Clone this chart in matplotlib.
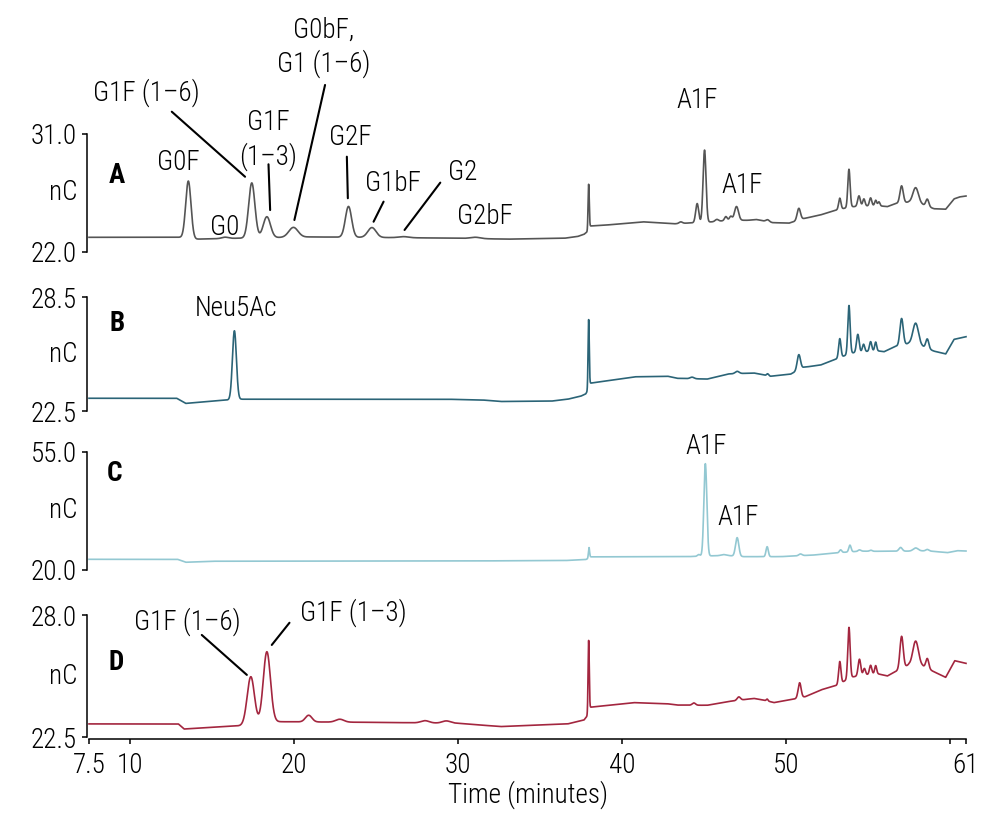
import numpy as np
import matplotlib
matplotlib.use("Agg")
import matplotlib.pyplot as plt
from matplotlib import font_manager as fm

# ---- data ----
t_start, t_end = 7.5, 61.0
x_ticks = [7.5, 10, 20, 30, 40, 50, 60, 61]
x_tick_labels = ["7.5", "10", "20", "30", "40", "50", "", "61"]

panels = ["A", "B", "C", "D"]
ylims = {"A": (22.0, 31.0), "B": (22.5, 28.5), "C": (20.0, 55.0), "D": (22.5, 28.0)}
colors = {"A": "#555555", "B": "#2b6477", "C": "#93c8d2", "D": "#a3263f"}

# baseline points (minutes, nC)
base_a_t = [7.5, 13.0, 14.0, 16.5, 21.0, 26.0, 30.0, 33.0, 36.5, 37.3, 37.7, 37.95, 38.05, 39.0,
            41.3, 43.2, 44.2, 45.5, 46.5, 47.7, 48.2, 49.2, 50.2, 51.1, 52.1, 53.1, 54.0, 55.5,
            56.2, 56.7, 57.5, 58.34, 59.05, 59.76, 60.27, 60.6, 61.0]
base_a_v = [23.12, 23.12, 22.98, 23.05, 23.15, 23.1, 23.05, 22.98, 23.05, 23.18, 23.35, 23.6, 23.98, 24.05,
            24.3, 24.15, 24.22, 24.3, 24.42, 24.42, 24.48, 24.24, 24.2, 24.55, 24.82, 25.2, 25.45, 25.55,
            25.46, 25.7, 25.8, 25.62, 25.3, 25.26, 26.05, 26.2, 26.27]
# peaks: retention time, height above baseline, width
peak_a_t = [13.56, 15.8, 17.43, 18.35, 19.97, 23.33, 24.76, 26.7, 31.07, 37.98, 43.6, 44.6, 45.05,
            45.8, 46.35, 46.65, 47.0, 48.9, 50.8, 53.3, 53.86, 54.47, 54.77, 55.18, 55.49, 55.69,
            57.07, 57.93, 58.64]
peak_a_h = [4.37, 0.1, 4.2, 1.6, 0.75, 2.35, 0.75, 0.08, 0.1, 3.45, 0.12, 1.45, 5.5,
            0.15, 0.3, 0.3, 1.05, 0.15, 0.9, 0.85, 2.9, 0.8, 0.55, 0.6, 0.4, 0.3,
            1.3, 1.2, 0.55]
peak_a_w = [0.16, 0.2, 0.19, 0.22, 0.28, 0.19, 0.25, 0.3, 0.3, 0.035, 0.1, 0.09, 0.09,
            0.1, 0.08, 0.08, 0.12, 0.1, 0.1, 0.07, 0.07, 0.08, 0.07, 0.07, 0.06, 0.06,
            0.1, 0.17, 0.09]

base_b_t = [7.5, 12.85, 13.4, 15.9, 16.8, 29.3, 31.5, 32.6, 35.7, 36.7, 37.5, 37.8, 37.95, 38.05,
            40.8, 42.8, 43.38, 45.21, 46.5, 48.06, 49.08, 50.3, 51.1, 52.13, 53.04, 54.0, 55.5,
            56.0, 56.7, 57.5, 58.34, 59.05, 59.76, 60.27, 61.0]
base_b_v = [23.17, 23.17, 22.9, 23.08, 23.12, 23.12, 23.08, 23.0, 23.02, 23.12, 23.28, 23.4, 23.6, 23.96,
            24.3, 24.33, 24.22, 24.18, 24.45, 24.5, 24.33, 24.44, 24.8, 24.92, 25.22, 25.55, 25.68,
            25.62, 25.9, 26.05, 25.9, 25.65, 25.5, 26.27, 26.41]
peak_b_t = [16.37, 37.98, 44.29, 47.04, 48.9, 50.8, 53.3, 53.86, 54.4, 54.75, 55.18, 55.49, 57.07, 57.93, 58.64]
peak_b_h = [3.62, 3.6, 0.08, 0.12, 0.1, 0.8, 1.0, 2.55, 0.95, 0.4, 0.5, 0.45, 1.4, 1.15, 0.5]
peak_b_w = [0.12, 0.035, 0.12, 0.12, 0.06, 0.1, 0.07, 0.07, 0.08, 0.07, 0.07, 0.06, 0.1, 0.17, 0.09]

base_c_t = [7.5, 12.9, 13.4, 15.0, 30.0, 36.5, 37.8, 37.95, 38.05, 44.0, 45.41, 46.43, 47.45, 49.69,
            51.72, 53.4, 54.6, 55.4, 57.5, 58.64, 59.86, 60.47, 61.0]
base_c_v = [23.17, 23.17, 22.3, 22.6, 22.67, 22.8, 23.1, 23.4, 23.9, 23.96, 24.2, 24.3, 23.96, 23.96,
            24.45, 25.2, 25.6, 25.55, 25.6, 25.7, 25.14, 25.73, 25.63]
peak_c_t = [38.0, 44.7, 45.1, 46.2, 47.04, 48.87, 50.9, 53.35, 53.92, 54.5, 55.2, 57.01, 57.93, 58.64]
peak_c_h = [3.0, 0.5, 27.4, 0.3, 5.5, 2.95, 0.5, 0.8, 2.0, 0.4, 0.3, 1.1, 0.9, 0.4]
peak_c_w = [0.035, 0.08, 0.09, 0.15, 0.1, 0.07, 0.1, 0.07, 0.07, 0.08, 0.08, 0.1, 0.15, 0.09]

base_d_t = [7.5, 12.95, 13.3, 16.7, 17.5, 18.96, 25.0, 30.0, 32.6, 36.7, 37.7, 37.95, 38.05, 40.73,
            42.76, 43.38, 45.21, 46.5, 48.06, 48.87, 49.28, 50.5, 51.2, 52.13, 53.15, 54.0, 55.5,
            56.2, 56.7, 57.5, 58.34, 59.05, 59.76, 60.31, 61.0]
base_d_v = [23.09, 23.09, 22.86, 23.01, 23.08, 23.19, 23.16, 23.12, 22.97, 23.09, 23.27, 23.5, 23.84, 24.05,
            24.0, 23.94, 23.93, 24.1, 24.24, 24.13, 24.05, 24.21, 24.32, 24.62, 24.84, 25.2, 25.37,
            25.25, 25.45, 25.75, 25.7, 25.44, 25.19, 25.94, 25.82]
peak_d_t = [17.37, 18.35, 20.9, 22.8, 28.0, 29.3, 37.98, 44.4, 47.14, 48.87, 50.85, 53.3, 53.86,
            54.5, 54.8, 55.18, 55.49, 57.07, 57.93, 58.64]
peak_d_h = [2.15, 3.2, 0.3, 0.13, 0.1, 0.1, 3.25, 0.1, 0.15, 0.08, 0.68, 1.0, 2.3,
            0.75, 0.3, 0.4, 0.35, 1.45, 1.1, 0.45]
peak_d_w = [0.22, 0.22, 0.2, 0.25, 0.25, 0.25, 0.035, 0.1, 0.1, 0.05, 0.09, 0.07, 0.07,
            0.08, 0.07, 0.07, 0.06, 0.1, 0.17, 0.09]

traces = {
    "A": (base_a_t, base_a_v, peak_a_t, peak_a_h, peak_a_w),
    "B": (base_b_t, base_b_v, peak_b_t, peak_b_h, peak_b_w),
    "C": (base_c_t, base_c_v, peak_c_t, peak_c_h, peak_c_w),
    "D": (base_d_t, base_d_v, peak_d_t, peak_d_h, peak_d_w),
}

# peak labels: text, text position (min, nC), optional leader line (from, to)
labels = {
    "A": [("G0F", (12.93, 28.86), None),
          ("G0", (15.8, 23.9), None),
          ("G1F (1\u20136)", (10.98, 34.13), ((12.55, 32.70), (17.02, 27.74))),
          ("G1F\n(1\u20133)", (18.43, 30.54), ((18.45, 28.69), (18.55, 25.2))),
          ("G0bF,\nG1 (1\u20136)", (21.79, 37.64), ((21.9, 34.74), (20.03, 24.44))),
          ("G2F", (23.43, 30.77), ((23.23, 29.27), (23.29, 26.1))),
          ("G1bF", (26.06, 27.26), ((25.47, 25.84), (24.86, 24.31))),
          ("G2", (30.27, 28.1), ((28.93, 27.29), (26.75, 23.68))),
          ("G2bF", (31.68, 24.67), None),
          ("A1F", (44.62, 33.52), None),
          ("A1F", (47.37, 27.11), None)],
    "B": [("Neu5Ac", (16.47, 27.87), None)],
    "C": [("A1F", (45.17, 56.49), None),
          ("A1F", (47.12, 35.43), None)],
    "D": [("G1F (1\u20136)", (13.48, 27.68), ((14.38, 27.1), (17.13, 25.3))),
          ("G1F (1\u20133)", (23.62, 28.09), ((19.73, 27.65), (18.65, 26.65)))],
}
letter_pos = {"A": (9.21, 27.87), "B": (9.21, 27.08), "C": (9.03, 48.77), "D": (9.15, 25.88)}

# ---- font: prefer a narrow sans ----
def pick_font():
    entries = fm.fontManager.ttflist
    names = {f.name for f in entries}
    for cand in ["Liberation Sans Narrow", "Roboto Condensed", "Open Sans Condensed"]:
        if cand in names:
            return cand, "normal"
    for f in entries:
        if f.name in ("DejaVu Sans", "Roboto", "Open Sans", "Noto Sans") and "condensed" in str(f.stretch):
            return f.name, "condensed"
    return "Liberation Sans", "normal"

fname, fstretch = pick_font()
plt.rcParams["font.family"] = [fname, "DejaVu Sans"]
plt.rcParams["font.stretch"] = fstretch
plt.rcParams["font.weight"] = "light"
plt.rcParams["axes.labelweight"] = "light"

FS = 19.5
W, H = 999, 825
panel_px = {"A": (134, 252), "B": (297, 411), "C": (452, 570), "D": (615, 737)}
x0_px, x1_px = 89, 966

fig = plt.figure(figsize=(W / 100, H / 100), dpi=100)
t = np.linspace(t_start, t_end, 9000)

for p in panels:
    top, bot = panel_px[p]
    ax = fig.add_axes([x0_px / W, 1 - bot / H, (x1_px - x0_px) / W, (bot - top) / H])
    bt, bv, pt, ph, pw = traces[p]
    y = np.interp(t, bt, bv)
    for c, h, w in zip(pt, ph, pw):
        y = y + h * np.exp(-0.5 * ((t - c) / w) ** 2)
    ax.plot(t, y, color=colors[p], lw=1.2, clip_on=False)

    ax.set_xlim(t_start, t_end)
    ax.set_ylim(*ylims[p])
    for s in ["top", "right"]:
        ax.spines[s].set_visible(False)
    ax.spines["left"].set_position(("outward", 1.5))
    ax.spines["left"].set_linewidth(1.1)
    ax.set_yticks(list(ylims[p]))
    ax.set_yticklabels(["%.1f" % v for v in ylims[p]])
    ax.tick_params(axis="y", length=3.5, width=1.1, pad=3.5, labelsize=FS)
    ax.annotate("nC", xy=(0, 0.5), xycoords="axes fraction", xytext=(-8, 0),
                textcoords="offset points", ha="right", va="center", fontsize=FS)

    if p == "D":
        ax.spines["bottom"].set_position(("outward", 1.5))
        ax.spines["bottom"].set_linewidth(1.1)
        ax.set_xticks(x_ticks)
        ax.set_xticklabels(x_tick_labels)
        ax.tick_params(axis="x", length=3.5, width=1.1, pad=6, labelsize=FS)
        ax.set_xlabel("Time (minutes)", fontsize=FS, fontweight="light", labelpad=1)
    else:
        ax.spines["bottom"].set_visible(False)
        ax.set_xticks([])

    lx, ly = letter_pos[p]
    ax.text(lx, ly, p, fontsize=FS, fontweight="bold", ha="center", va="center")

    for txt, (tx, ty), line in labels[p]:
        ax.text(tx, ty, txt, fontsize=FS, ha="center", va="center", linespacing=1.25, clip_on=False)
        if line is not None:
            ax.annotate("", xy=line[1], xytext=line[0], annotation_clip=False,
                        arrowprops=dict(arrowstyle="-", lw=1.5, color="black", shrinkA=0, shrinkB=0))

fig.savefig("out.png", dpi=100)
